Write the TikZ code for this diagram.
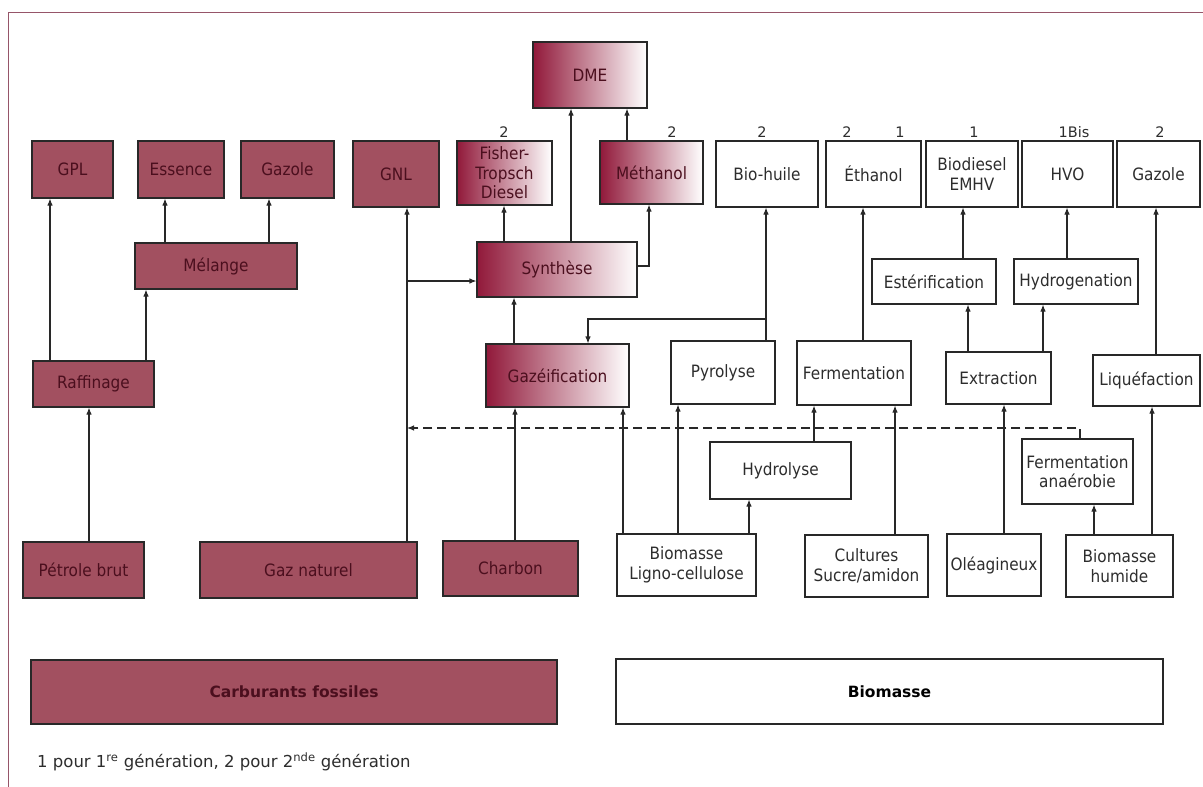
\documentclass[tikz,border=0pt]{standalone}
\usepackage{fontspec}
\setmainfont{DejaVu Sans}[FakeStretch=0.9]
\newfontfamily\notefont{DejaVu Sans}
\usetikzlibrary{arrows.meta,calc}
\definecolor{fossil}{RGB}{162,80,96}
\definecolor{fossiltxt}{RGB}{75,15,30}
\definecolor{gradL}{RGB}{145,25,58}
\definecolor{linec}{RGB}{40,40,40}
\definecolor{framec}{RGB}{150,85,105}
\definecolor{biotxt}{RGB}{45,45,45}
\newcommand\mybox[7]{\node[#2, minimum width={(#5)-(#3)}, minimum height={(#6)-(#4)}] (#1) at ({((#3)+(#5))/2},{((#4)+(#6))/2}) {#7};}
\begin{document}
\begin{tikzpicture}[x=1pt,y=-1pt,
  base/.style={draw=linec, line width=1.1pt, inner sep=1pt, align=center, font=\fontsize{17}{19.5}\selectfont},
  fossilbox/.style={base, fill=fossil, text=fossiltxt},
  gradbox/.style={base, left color=gradL, right color=white, text=fossiltxt},
  biobox/.style={base, fill=white, text=biotxt},
  legbox/.style={base, font=\notefont\fontsize{15.5}{18}\selectfont\bfseries},
  lbl/.style={font=\notefont\fontsize{14.5}{17}\selectfont, text=biotxt, inner sep=0},
  arr/.style={draw=linec, line width=1.1pt, -{Latex[length=7pt,width=5.5pt]}},
  dasharr/.style={arr, dash pattern=on 9pt off 5pt},
  frame/.style={draw=framec, line width=1pt},
]
\useasboundingbox (0,0) rectangle (1203,787);
\draw[frame] (8,787) -- (8,12) -- (1203,12);

% fossil boxes
\mybox{gpl}{fossilbox}{32}{141}{113}{198}{GPL}
\mybox{essence}{fossilbox}{138}{141}{224}{198}{Essence}
\mybox{gazolef}{fossilbox}{241}{141}{334}{198}{Gazole}
\mybox{gnl}{fossilbox}{353}{141}{439}{207}{GNL}
\mybox{melange}{fossilbox}{135}{243}{297}{289}{Mélange}
\mybox{raffinage}{fossilbox}{33}{361}{154}{407}{Raffinage}
\mybox{petrole}{fossilbox}{23}{542}{144}{598}{Pétrole brut}
\mybox{gaznat}{fossilbox}{200}{542}{417}{598}{Gaz naturel}
\mybox{charbon}{fossilbox}{443}{541}{578}{596}{Charbon}
% gradient boxes
\mybox{dme}{gradbox}{533}{42}{647}{108}{DME}
\mybox{ft}{gradbox}{457}{141}{552}{205}{Fisher-\\Tropsch\\Diesel}
\mybox{methanol}{gradbox}{600}{141}{703}{204}{Méthanol}
\mybox{synthese}{gradbox}{477}{242}{637}{297}{Synthèse}
\mybox{gazeif}{gradbox}{486}{344}{629}{407}{Gazéification}
% biomass boxes
\mybox{biohuile}{biobox}{716}{141}{818}{207}{Bio-huile}
\mybox{ethanol}{biobox}{826}{141}{921}{207}{Éthanol}
\mybox{biodiesel}{biobox}{926}{141}{1018}{207}{Biodiesel\\EMHV}
\mybox{hvo}{biobox}{1022}{141}{1113}{207}{HVO}
\mybox{gazoleb}{biobox}{1117}{141}{1200}{207}{Gazole}
\mybox{esterif}{biobox}{872}{259}{996}{304}{Estérification}
\mybox{hydrog}{biobox}{1014}{259}{1138}{304}{Hydrogenation}
\mybox{pyrolyse}{biobox}{671}{341}{775}{404}{Pyrolyse}
\mybox{ferment}{biobox}{797}{341}{911}{405}{Fermentation}
\mybox{extraction}{biobox}{946}{352}{1051}{404}{Extraction}
\mybox{liquef}{biobox}{1093}{355}{1200}{406}{Liquéfaction}
\mybox{hydrolyse}{biobox}{710}{442}{851}{499}{Hydrolyse}
\mybox{fermanaer}{biobox}{1022}{439}{1133}{504}{Fermentation\\anaérobie}
\mybox{ligno}{biobox}{617}{534}{756}{596}{Biomasse\\Ligno-cellulose}
\mybox{cultures}{biobox}{805}{535}{928}{597}{Cultures\\Sucre/amidon}
\mybox{oleag}{biobox}{947}{534}{1041}{596}{Oléagineux}
\mybox{humide}{biobox}{1066}{535}{1173}{597}{Biomasse\\humide}
% legend
\mybox{carbfoss}{legbox,fill=fossil,text=fossiltxt}{31}{660}{557}{724}{Carburants fossiles}
\mybox{biomasse}{legbox,fill=white,text=black}{616}{659}{1163}{724}{Biomasse}

% generation labels
\node[lbl] (g1) at (504,132) {2};
\node[lbl] (g2) at (672,132) {2};
\node[lbl] (g3) at (762,132) {2};
\node[lbl] (g4) at (847,132) {2};
\node[lbl] (g5) at (900,132) {1};
\node[lbl] (g6) at (974,132) {1};
\node[lbl] (g7) at (1074,132) {1Bis};
\node[lbl] (g8) at (1160,132) {2};

\node[lbl, anchor=west, font=\notefont\fontsize{16.5}{19}\selectfont] (note) at (37,762)
  {1 pour 1\textsuperscript{re} génération, 2 pour 2\textsuperscript{nde} génération};

% junction coordinates
\coordinate (jg) at (407,281);
\coordinate (jd) at (407,428);
\coordinate (jp) at (766,319);

% fossil connectors
\draw[arr] (petrole.north -| 89,0) -- (raffinage.south -| 89,0);
\draw[arr] (raffinage.north -| 50,0) -- (gpl.south -| 50,0);
\draw[arr] (raffinage.north -| 146,0) -- (melange.south -| 146,0);
\draw[arr] (melange.north -| 165,0) -- (essence.south -| 165,0);
\draw[arr] (melange.north -| 269,0) -- (gazolef.south -| 269,0);
\draw[arr] (gaznat.north -| jg) -- (gnl.south -| jg);
\draw[arr] (jg) -- (synthese.west |- jg);
\draw[arr] (charbon.north -| 515,0) -- (gazeif.south -| 515,0);
\draw[arr] (gazeif.north -| 514,0) -- (synthese.south -| 514,0);
\draw[arr] (synthese.north -| 504,0) -- (ft.south -| 504,0);
\draw[arr] (synthese.north -| 571,0) -- (dme.south -| 571,0);
\draw[arr] (synthese.east |- 0,266) -| (methanol.south -| 649,0);
\draw[arr] (methanol.north -| 627,0) -- (dme.south -| 627,0);
% biomass connectors
\draw[arr] (ligno.north -| 623,0) -- (gazeif.south -| 623,0);
\draw[arr] (ligno.north -| 678,0) -- (pyrolyse.south -| 678,0);
\draw[arr] (ligno.north -| 749,0) -- (hydrolyse.south -| 749,0);
\draw[arr] (pyrolyse.north -| jp) -- (biohuile.south -| jp);
\draw[arr] (jp) -| (gazeif.north -| 588,0);
\draw[arr] (hydrolyse.north -| 814,0) -- (ferment.south -| 814,0);
\draw[arr] (cultures.north -| 895,0) -- (ferment.south -| 895,0);
\draw[arr] (ferment.north -| 863,0) -- (ethanol.south -| 863,0);
\draw[arr] (oleag.north -| 1004,0) -- (extraction.south -| 1004,0);
\draw[arr] (extraction.north -| 968,0) -- (esterif.south -| 968,0);
\draw[arr] (extraction.north -| 1043,0) -- (hydrog.south -| 1043,0);
\draw[arr] (esterif.north -| 963,0) -- (biodiesel.south -| 963,0);
\draw[arr] (hydrog.north -| 1067,0) -- (hvo.south -| 1067,0);
\draw[arr] (humide.north -| 1094,0) -- (fermanaer.south -| 1094,0);
\draw[arr] (humide.north -| 1152,0) -- (liquef.south -| 1152,0);
\draw[arr] (liquef.north -| 1156,0) -- (gazoleb.south -| 1156,0);
\draw[dasharr] (fermanaer.north -| 1080,0) |- (jd);
\end{tikzpicture}
\end{document}
